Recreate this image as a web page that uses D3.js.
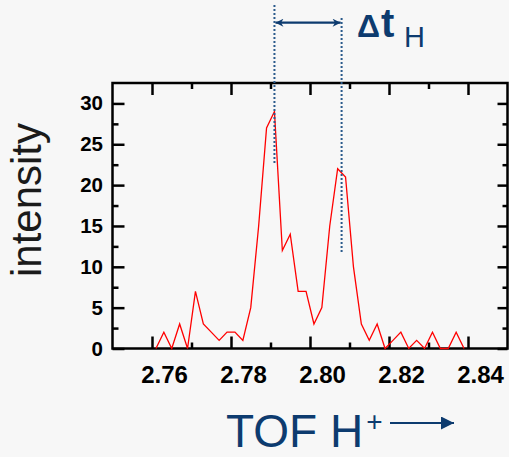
<!DOCTYPE html>
<html>
<head>
<meta charset="utf-8">
<script src="https://cdn.jsdelivr.net/npm/d3@7"></script>
<style>
  html, body { margin: 0; padding: 0; background: #f7f7f7; overflow: hidden; }
  svg { display: block; }
</style>
</head>
<body>
<svg id="chart" width="509" height="457"></svg>
<script>
// ---- data ----
const tof = [2.761, 2.763, 2.765, 2.767, 2.769, 2.771, 2.773, 2.775, 2.777, 2.779,
             2.781, 2.783, 2.785, 2.787, 2.789, 2.791, 2.793, 2.795, 2.797, 2.799,
             2.801, 2.803, 2.805, 2.807, 2.809, 2.811, 2.813, 2.815, 2.817, 2.819,
             2.821, 2.823, 2.825, 2.827, 2.829, 2.831, 2.833, 2.835, 2.837, 2.839];
const intensity = [0, 2, 0, 3, 0, 7, 3, 2, 1, 2,
                   2, 1, 5, 15, 27, 29, 12, 14, 7, 7,
                   3, 5, 15, 22, 21, 10, 3, 1, 3, 0,
                   1, 2, 0, 1, 0, 2, 0, 0, 2, 0];
const xMajorTicks = [2.76, 2.78, 2.80, 2.82, 2.84];
const xTickLabels = ["2.76", "2.78", "2.80", "2.82", "2.84"];
const xMinorTicks = [2.77, 2.79, 2.81, 2.83];
const yMajorTicks = [0, 5, 10, 15, 20, 25, 30];
const yTickLabels = ["0", "5", "10", "15", "20", "25", "30"];
const yMinorTicks = [2.5, 7.5, 12.5, 17.5, 22.5, 27.5];
const peakTimes = [2.791, 2.808];   // Δt_H markers
const xDomain = [2.75, 2.85];
const yDomain = [0, 32.5];

// ---- layout ----
const L = 112.5, R = 507.5, T = 83, B = 348.5;
const navy = "#0d3b6f";
const font = "'Liberation Sans', Arial, sans-serif";

const svg = d3.select("#chart");
svg.append("rect").attr("width", 509).attr("height", 457).attr("fill", "#f7f7f7");

const x = d3.scaleLinear().domain(xDomain).range([L, R]);
const y = d3.scaleLinear().domain(yDomain).range([B, T]);

function styleAxis(g) {
  g.select(".domain").remove();
  g.selectAll(".tick line").attr("stroke", "#000").attr("stroke-width", 2.5);
}
const fmtX = d => xTickLabels[xMajorTicks.indexOf(d)];
const fmtY = d => yTickLabels[yMajorTicks.indexOf(d)];

// bottom
const gb = svg.append("g").attr("transform", `translate(0,${B})`)
  .call(d3.axisBottom(x).tickValues(xMajorTicks).tickFormat(fmtX).tickSize(-12).tickPadding(17.5));
styleAxis(gb);
gb.selectAll(".tick text")
  .attr("dx", 12)
  .attr("fill", "#000")
  .style("font-family", font).style("font-size", "24px").style("font-weight", "bold");
svg.append("g").attr("transform", `translate(0,${B})`)
  .call(d3.axisBottom(x).tickValues(xMinorTicks).tickFormat("").tickSize(-6)).call(styleAxis);
// top
svg.append("g").attr("transform", `translate(0,${T})`)
  .call(d3.axisTop(x).tickValues(xMajorTicks).tickFormat("").tickSize(-12)).call(styleAxis);
svg.append("g").attr("transform", `translate(0,${T})`)
  .call(d3.axisTop(x).tickValues(xMinorTicks).tickFormat("").tickSize(-6)).call(styleAxis);
// left
const gl = svg.append("g").attr("transform", `translate(${L},0)`)
  .call(d3.axisLeft(y).tickValues(yMajorTicks).tickFormat(fmtY).tickSize(-12).tickPadding(9.5));
styleAxis(gl);
gl.selectAll(".tick text")
  .attr("fill", "#000")
  .style("font-family", font).style("font-size", "20.5px").style("font-weight", "bold");
svg.append("g").attr("transform", `translate(${L},0)`)
  .call(d3.axisLeft(y).tickValues(yMinorTicks).tickFormat("").tickSize(-6)).call(styleAxis);
// right
svg.append("g").attr("transform", `translate(${R},0)`)
  .call(d3.axisRight(y).tickValues(yMajorTicks).tickFormat("").tickSize(-10)).call(styleAxis);
svg.append("g").attr("transform", `translate(${R},0)`)
  .call(d3.axisRight(y).tickValues(yMinorTicks).tickFormat("").tickSize(-5)).call(styleAxis);

// frame
svg.append("rect")
  .attr("x", L).attr("y", T).attr("width", R - L).attr("height", B - T)
  .attr("fill", "none").attr("stroke", "#000").attr("stroke-width", 2.5);

// data line
const line = d3.line().x((d, i) => x(tof[i])).y(d => y(d));
svg.append("path").datum(intensity)
  .attr("d", line)
  .attr("fill", "none").attr("stroke", "#ff0000").attr("stroke-width", 1.3)
  .attr("stroke-linejoin", "miter");

// Δt markers
const dotColor = "#2a5a8c";
svg.append("line")
  .attr("x1", x(peakTimes[0])).attr("x2", x(peakTimes[0]))
  .attr("y1", 5).attr("y2", y(22.5))
  .attr("stroke", dotColor).attr("stroke-width", 2).attr("stroke-dasharray", "2,2");
svg.append("line")
  .attr("x1", x(peakTimes[1])).attr("x2", x(peakTimes[1]))
  .attr("y1", 18).attr("y2", y(11.8))
  .attr("stroke", dotColor).attr("stroke-width", 2).attr("stroke-dasharray", "2,2");

const defs = svg.append("defs");
defs.append("marker").attr("id", "ah").attr("viewBox", "0 0 10 10")
  .attr("refX", 10).attr("refY", 5).attr("markerWidth", 10).attr("markerHeight", 8)
  .attr("markerUnits", "userSpaceOnUse").attr("orient", "auto-start-reverse")
  .append("path").attr("d", "M0,0 L10,5 L0,10 L3,5 Z").attr("fill", navy);
svg.append("line")
  .attr("x1", x(peakTimes[0]) + 1).attr("x2", x(peakTimes[1]) - 1)
  .attr("y1", 22.7).attr("y2", 22.7)
  .attr("stroke", navy).attr("stroke-width", 2.2)
  .attr("marker-start", "url(#ah)").attr("marker-end", "url(#ah)");

const dt = svg.append("text").attr("x", 357).attr("y", 37)
  .attr("fill", navy).style("font-family", font);
dt.append("tspan").style("font-size", "32px").style("font-weight", "bold").text("Δ");
dt.append("tspan").attr("dx", 1).style("font-size", "40px").style("font-weight", "bold").text("t");
dt.append("tspan").attr("x", 404).attr("y", 47).style("font-size", "29px").text("H");

// axis titles
svg.append("text")
  .attr("transform", "translate(41,200) rotate(-90)")
  .attr("text-anchor", "middle")
  .attr("fill", "#1a1a1a")
  .style("font-family", font).style("font-size", "42px")
  .text("intensity");

const tt = svg.append("text").attr("x", 226).attr("y", 447)
  .attr("fill", navy).style("font-family", font).style("font-size", "46px");
tt.append("tspan").text("TOF H");
tt.append("tspan").attr("dx", 3).attr("dy", -16).style("font-size", "28px").text("+");

defs.append("marker").attr("id", "ah2").attr("viewBox", "0 0 10 10")
  .attr("refX", 10).attr("refY", 5).attr("markerWidth", 15).attr("markerHeight", 13)
  .attr("markerUnits", "userSpaceOnUse").attr("orient", "auto")
  .append("path").attr("d", "M0,0 L10,5 L0,10 Z").attr("fill", navy);
svg.append("line")
  .attr("x1", 390).attr("x2", 454).attr("y1", 423).attr("y2", 423)
  .attr("stroke", navy).attr("stroke-width", 2)
  .attr("marker-end", "url(#ah2)");
</script>
</body>
</html>
